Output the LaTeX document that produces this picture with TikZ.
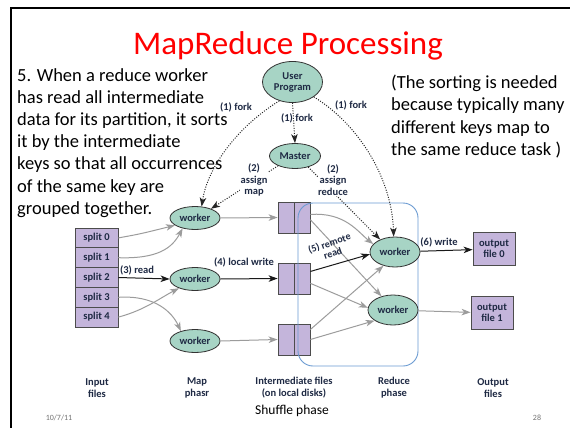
\documentclass[tikz,border=0pt]{standalone}
\usepackage{fontspec}
\setmainfont{Carlito}
\usetikzlibrary{shapes.geometric,arrows.meta}
\definecolor{labelnavy}{HTML}{1F2A44}
\definecolor{ovalfill}{HTML}{A7D4C5}
\definecolor{boxfill}{HTML}{C4B5DB}
\definecolor{flowgray}{HTML}{9C9C9C}
\definecolor{shuffleblue}{HTML}{6B9BD2}
\definecolor{slidered}{HTML}{FF0000}

\tikzset{
  lbl/.style={font=\bfseries\fontsize{10.5}{11.5}\selectfont, text=labelnavy},
  oval/.style={ellipse, draw=black!80, line width=0.8pt, fill=ovalfill, inner sep=0pt, lbl},
  cell/.style={rectangle, draw=black!70, line width=0.8pt, fill=boxfill, inner sep=0pt, lbl},
  flowtip/.style={-{Stealth[length=9pt,width=6.5pt,inset=2.5pt]}},
  grayflow/.style={draw=flowgray, line width=1pt, flowtip},
  darkflow/.style={draw=black!90, line width=1pt, flowtip},
  dotflow/.style={draw=black!85, line width=1pt, dash pattern=on 1pt off 1.5pt, flowtip},
  cover/.style={lbl, fill=white, inner sep=0.5pt, align=center},
  bottomlbl/.style={font=\bfseries\fontsize{10.5}{12}\selectfont, text=labelnavy, align=center},
}

\begin{document}
\begin{tikzpicture}[x=1pt, y=-1pt]
\useasboundingbox (0,0) rectangle (570,428);
\fill[white] (0,0) rectangle (570,428);

% slide frame
\draw[line width=2.4pt] (570,8) -- (11,8) -- (11,428);

% title and notes
\node[font=\fontsize{33}{36}\selectfont, text=slidered, anchor=base] (title) at (288,55) {MapReduce Processing};
\node[anchor=north west, align=left, inner sep=0pt, font=\fontsize{18.5}{22.2}\selectfont] (note) at (17,68)
  {5. When a reduce worker\\has read all intermediate\\data for its partition, it sorts\\it by the intermediate\\keys so that all occurrences\\of the same key are\\grouped together.};
\node[anchor=north west, align=left, inner sep=0pt, font=\fontsize{18.5}{22.2}\selectfont] (aside) at (391,75)
  {(The sorting is needed\\because typically many\\different keys map to\\the same reduce task )};

% input splits
\foreach \i in {0,...,4}
  \node[cell, minimum width=43pt, minimum height=19.8pt] (s\i) at (96.5,{237.9+19.8*\i}) {split \i};

% intermediate files on local disks
\foreach \j/\y in {1/217.5, 2/278.5, 3/339.5} {
  \node[cell, minimum width=16pt, minimum height=31pt] (ml\j) at (286,\y) {};
  \node[cell, minimum width=16pt, minimum height=31pt] (mr\j) at (302,\y) {};
}

% shuffle region
\draw[shuffleblue, line width=0.9pt, rounded corners=15pt] (298,203) rectangle (418,366);

% program, master and workers
\node[oval, minimum width=60pt, minimum height=41pt, align=center, font=\bfseries\fontsize{10.5}{11}\selectfont] (up) at (292.5,82) {User\\Program};
\node[oval, minimum width=51pt, minimum height=25pt] (master) at (295,156) {Master};
\node[oval, minimum width=50pt, minimum height=23pt] (w1) at (195,218) {worker};
\node[oval, minimum width=50pt, minimum height=23pt] (w2) at (195,279) {worker};
\node[oval, minimum width=50pt, minimum height=23pt] (w3) at (195,341) {worker};
\node[oval, minimum width=50pt, minimum height=30pt] (r1) at (395,252) {worker};
\node[oval, minimum width=50pt, minimum height=30pt] (r2) at (393,310) {worker};

% output files
\node[cell, minimum width=42pt, minimum height=33pt, align=center, font=\bfseries\fontsize{10.5}{11}\selectfont] (o0) at (494,249) {output\\file 0};
\node[cell, minimum width=42pt, minimum height=33pt, align=center, font=\bfseries\fontsize{10.5}{11}\selectfont] (o1) at (492,313) {output\\file 1};

% splits to map workers
\draw[grayflow] (s0.east) .. controls (140,234) .. (w1.200);
\draw[grayflow] (s1.east) .. controls (158,259) and (172,248) .. (w1.220);
\draw[darkflow] (s2.east) -- (w2.west);
\draw[grayflow] (s3.east) .. controls (155,295) and (172,312) .. (w3.145);
\draw[grayflow] (s4.east) .. controls (145,310) and (160,298) .. (w2.210);

% map workers to local files
\draw[grayflow] (w1.east) -- (ml1.west);
\draw[darkflow] (w2.east) -- (ml2.west);
\draw[grayflow] (w3.east) -- (ml3.west);
\node[lbl] (readlbl) at (137,270) {(3) read};
\node[lbl] (writelbl) at (244,262) {(4) local write};

% local files to reduce workers
\draw[grayflow] (mr1.20) .. controls (345,212) and (358,232) .. (r1.160);
\draw[grayflow] (mr1.-15) -- (r2.130);
\draw[darkflow] (mr2.40) -- (r1.185);
\draw[grayflow] (mr2.-30) -- (r2.175);
\draw[grayflow] (mr3.50) -- (r1.230);
\draw[grayflow] (mr3.0) -- (r2.210);
\node[lbl, rotate=19, align=center, font=\bfseries\fontsize{10}{10.5}\selectfont] (remotelbl) at (331,248) {(5) remote\\read};

% control messages
\draw[dotflow] (up.south) -- (master.north);
\draw[dotflow] (up.235) .. controls (240,125) and (208,165) .. (w1.60);
\draw[dotflow] (up.-35) .. controls (360,125) and (392,180) .. (r1.95);
\draw[dotflow] (master.210) -- (w1.30);
\draw[dotflow] (master.-40) -- (r1.140);
\node[lbl] (forkmid) at (297,118) {(1) fork};
\node[lbl] (forkleft) at (236,107) {(1) fork};
\node[lbl] (forkright) at (351,105) {(1) fork};
\node[cover] (assignmap) at (254,180) {(2)\\assign\\map};
\node[cover] (assignred) at (333,180) {(2)\\assign\\reduce};

% reduce workers to output files
\draw[darkflow] (r1) -- (o0);
\draw[grayflow] (r2) -- (o1);
\node[lbl] (writeout) at (439,242) {(6) write};

% phase captions
\node[bottomlbl] (capin) at (97,388) {Input\\files};
\node[bottomlbl] (capmap) at (197,388) {Map\\phasr};
\node[bottomlbl] (capmid) at (294,388) {Intermediate files\\(on local disks)};
\node[bottomlbl] (capred) at (394,388) {Reduce\\phase};
\node[bottomlbl] (capout) at (493,388) {Output\\files};
\node[font=\fontsize{13.5}{15}\selectfont] (shuffle) at (292,411) {Shuffle phase};
\node[font=\fontsize{8}{9}\selectfont, text=black!55] (date) at (59,418) {10/7/11};
\node[font=\fontsize{8}{9}\selectfont, text=black!55] (pagenum) at (537,418) {28};
\end{tikzpicture}
\end{document}
